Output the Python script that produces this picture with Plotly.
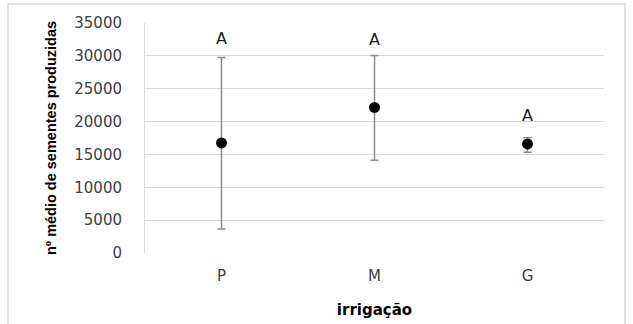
import plotly.graph_objects as go

categories = ["P", "M", "G"]
means = [16750, 22150, 16600]
err_plus = [13000, 7900, 950]
err_minus = [13100, 8050, 1250]
letters = ["A", "A", "A"]
letter_y = [32600, 32450, 20850]
y_ticks = [0, 5000, 10000, 15000, 20000, 25000, 30000, 35000]

W, H = 633, 324
L, R, T, B = 145, 604, 23, 253

fig = go.Figure()
fig.add_trace(go.Scatter(
    x=categories, y=means, mode="markers",
    marker=dict(color="black", size=11),
    error_y=dict(type="data", symmetric=False, array=err_plus, arrayminus=err_minus,
                 color="#8c8c8c", thickness=1.5, width=4),
    showlegend=False,
))

for c, t, yy in zip(categories, letters, letter_y):
    fig.add_annotation(x=c, y=yy, text=t, showarrow=False,
                       font=dict(family="DejaVu Sans", size=16, color="#1a1a1a"))

def px_to_paper_x(px):
    return (px - L) / (R - L)

def px_to_paper_y(py):
    return (B - py) / (B - T)

fig.add_shape(type="rect", xref="paper", yref="paper",
              x0=px_to_paper_x(8), x1=px_to_paper_x(625),
              y0=px_to_paper_y(340), y1=px_to_paper_y(4),
              line=dict(color="#d9d9d9", width=1.5), fillcolor="rgba(0,0,0,0)",
              layer="below")

fig.update_layout(
    width=W, height=H,
    margin=dict(l=L, r=W - R, t=T, b=H - B),
    paper_bgcolor="white", plot_bgcolor="white",
    font=dict(family="DejaVu Sans", size=15, color="#404040"),
    xaxis=dict(
        type="category", range=[-0.5, 2.5], automargin=False,
        showgrid=False, showline=False, zeroline=False,
        ticks="", ticklabelstandoff=12, tickfont=dict(size=15, color="#404040"),
        title=dict(text="irrigação", font=dict(family="DejaVu Sans", size=15, color="black", weight="bold"),
                   standoff=20),
    ),
    yaxis=dict(
        range=[0, 35000], tickvals=y_ticks, ticktext=[str(v) for v in y_ticks],
        automargin=False,
        showgrid=True, gridcolor="#d9d9d9", gridwidth=1,
        showline=True, linecolor="#d9d9d9", linewidth=1,
        zeroline=False, ticks="", ticklabelstandoff=19,
        tickfont=dict(size=15, color="#404040"),
        title=dict(text="nº médio de sementes produzidas",
                   font=dict(family="Liberation Sans Narrow, Arial Narrow, sans-serif", size=14.5,
                             color="black", weight="bold"),
                   standoff=14),
    ),
)

fig.write_html("out.html")
